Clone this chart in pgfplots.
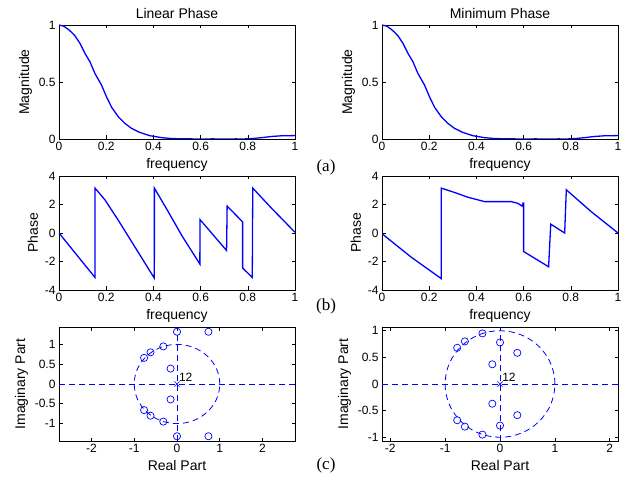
\documentclass[border=0pt]{standalone}
\usepackage{fontspec}
\setmainfont{Liberation Sans}
\newfontfamily\seriff{Liberation Serif}
\usepackage{pgfplots}
\usepackage{pgfplotstable}
\pgfplotsset{compat=1.18}

\definecolor{mblue}{RGB}{0,0,255}

\tikzset{zp/.style={mblue, line width=0.8pt, dash pattern=on 6pt off 4pt}}
\pgfplotsset{
  mat/.style={
    scale only axis, width=236pt, height=114pt, anchor=north west,
    tick align=inside, xtick pos=both, ytick pos=both,
    major tick length=3.5pt,
    axis line style={line width=0.7pt},
    every tick/.style={black, line width=0.6pt},
    tick label style={font=\fontsize{12}{12}\selectfont},
    label style={font=\fontsize{14}{14}\selectfont},
    title style={font=\fontsize{14}{14}\selectfont, yshift=-3pt},
    /pgf/number format/assume math mode=true,
  },
  curve/.style={mblue, line width=1.3pt},
  zeros/.style={only marks, mark=o, mark size=3.6pt, mblue, mark options={line width=0.7pt, solid}},
}

% magnitude response (identical for both filters)
\pgfplotstableread{
f m
0 1
0.02 0.99
0.039 0.962
0.054 0.935
0.068 0.904
0.089 0.839
0.11 0.751
0.131 0.678
0.152 0.576
0.18 0.474
0.201 0.371
0.223 0.278
0.251 0.196
0.279 0.137
0.307 0.094
0.342 0.058
0.385 0.029
0.434 0.012
0.476 0.004
0.52 0.002
0.6 0
0.65 0.001
0.71 0
0.75 0.001
0.78 0
0.82 0.004
0.86 0.012
0.9 0.022
0.94 0.028
1 0.03
}\magtab

\pgfplotstableread{
f p
0 0
0.1525 -3.12
0.1526 3.15
0.195 2.32
0.251 0.9
0.322 -0.99
0.404 -3.17
0.4041 3.15
0.463 1.49
0.52 -0.17
0.597 -2.18
0.5971 0.95
0.71 -1.23
0.7125 1.89
0.778 0.78
0.7781 -2.46
0.819 -3.12
0.821 3.15
0.901 1.73
1 0.05
}\linphase

\pgfplotstableread{
f p
0 -0.05
0.124 -1.7
0.251 -3.2
0.2511 3.15
0.308 2.84
0.364 2.51
0.435 2.2
0.548 2.2
0.576 2.08
0.593 1.89
0.598 2.1
0.6 2.1
0.6001 -1.3
0.706 -2.37
0.715 0.62
0.774 0.0
0.781 3.03
0.887 1.49
1 0
}\minphase

\pgfplotstableread{
x y
0 1.32
0.735 1.32
-0.32 0.95
-0.62 0.80
-0.77 0.66
-0.15 0.39
0 -1.32
0.735 -1.32
-0.32 -0.95
-0.62 -0.80
-0.77 -0.66
-0.15 -0.39
}\linzeros

\pgfplotstableread{
x y
0 0.78
0.315 0.585
-0.14 0.37
-0.32 0.95
-0.64 0.80
-0.78 0.68
0 -0.78
0.315 -0.585
-0.14 -0.37
-0.32 -0.95
-0.64 -0.80
-0.78 -0.68
}\minzeros

\begin{document}
\begin{tikzpicture}
\useasboundingbox (0,0) rectangle (626pt,-481pt);

% ---- row (a): magnitude
\begin{axis}[mat, at={(59pt,-25pt)},
  title={Linear Phase}, xlabel={frequency}, ylabel={Magnitude},
  xmin=0, xmax=1, ymin=0, ymax=1,
  xtick={0,0.2,0.4,0.6,0.8,1}, ytick={0,0.5,1}]
\addplot[curve] table[x=f,y=m] {\magtab};
\end{axis}
\begin{axis}[mat, at={(382pt,-25pt)},
  title={Minimum Phase}, xlabel={frequency}, ylabel={Magnitude},
  xmin=0, xmax=1, ymin=0, ymax=1,
  xtick={0,0.2,0.4,0.6,0.8,1}, ytick={0,0.5,1}]
\addplot[curve] table[x=f,y=m] {\magtab};
\end{axis}

% ---- row (b): phase
\begin{axis}[mat, at={(59pt,-176pt)},
  xlabel={frequency}, ylabel={Phase},
  xmin=0, xmax=1, ymin=-4, ymax=4,
  xtick={0,0.2,0.4,0.6,0.8,1}, ytick={-4,-2,0,2,4}]
\addplot[curve] table[x=f,y=p] {\linphase};
\end{axis}
\begin{axis}[mat, at={(382pt,-176pt)},
  xlabel={frequency}, ylabel={Phase},
  xmin=0, xmax=1, ymin=-4, ymax=4,
  xtick={0,0.2,0.4,0.6,0.8,1}, ytick={-4,-2,0,2,4}]
\addplot[curve] table[x=f,y=p] {\minphase};
\end{axis}

% ---- row (c): pole-zero plots
\begin{axis}[mat, at={(59pt,-327pt)},
  xlabel={Real Part}, ylabel={Imaginary Part},
  xmin=-2.76, xmax=2.76, ymin=-1.44, ymax=1.44,
  xtick={-2,-1,0,1,2}, ytick={-1,-0.5,0,0.5,1}]
\addplot[zp] coordinates {(-2.76,0) (2.76,0)};
\addplot[zp] coordinates {(0,-1.44) (0,1.44)};
\draw[zp] (axis cs:0,0) ellipse [x radius=1, y radius=1];
\addplot[zeros] table[x=x,y=y] {\linzeros};
\addplot[only marks, mark=x, mark size=3.6pt, mblue, mark options={line width=0.7pt}] coordinates {(0,0)};
\node[anchor=south west, inner sep=1pt, font=\fontsize{12}{12}\selectfont] at (axis cs:0.02,0.03) {12};
\end{axis}
\begin{axis}[mat, at={(382pt,-327pt)},
  xlabel={Real Part}, ylabel={Imaginary Part},
  xmin=-2.15, xmax=2.15, ymin=-1.07, ymax=1.07,
  xtick={-2,-1,0,1,2}, ytick={-1,-0.5,0,0.5,1}]
\addplot[zp] coordinates {(-2.15,0) (2.15,0)};
\addplot[zp] coordinates {(0,-1.07) (0,1.07)};
\draw[zp] (axis cs:0,0) ellipse [x radius=1, y radius=1];
\addplot[zeros] table[x=x,y=y] {\minzeros};
\addplot[only marks, mark=x, mark size=3.6pt, mblue, mark options={line width=0.7pt}] coordinates {(0,0)};
\node[anchor=south west, inner sep=1pt, font=\fontsize{12}{12}\selectfont] at (axis cs:0.02,0.03) {12};
\end{axis}

% panel tags
\node[font=\seriff\fontsize{17}{17}\selectfont] at (326pt,-167pt) {(a)};
\node[font=\seriff\fontsize{17}{17}\selectfont] at (326pt,-306pt) {(b)};
\node[font=\seriff\fontsize{17}{17}\selectfont] at (326pt,-465pt) {(c)};
\end{tikzpicture}
\end{document}
